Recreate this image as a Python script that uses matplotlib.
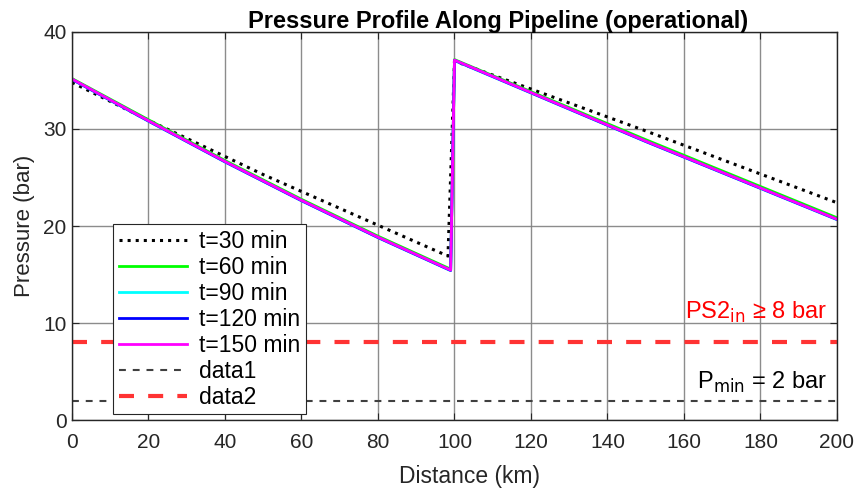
import numpy as np
import matplotlib
matplotlib.use("Agg")
import matplotlib.pyplot as plt

# Pressure samples along the line (km, bar); upstream and downstream of the booster at ~99 km
dist_30 = [0, 20, 50, 98.3, 100, 150, 200]
p_30 = [34.8, 30.9, 25.3, 16.9, 37.0, 29.8, 22.4]

dist_late = [0, 20, 40, 60, 80, 99, 100, 150, 200]
p_60 = [35.2, 30.95, 26.75, 22.75, 18.95, 15.55, 37.15, 28.9, 20.85]
p_90 = [35.1, 30.8, 26.6, 22.6, 18.8, 15.4, 37.05, 28.7, 20.65]
p_120 = [35.12, 30.82, 26.62, 22.62, 18.82, 15.42, 37.08, 28.72, 20.68]
p_150 = [35.15, 30.85, 26.65, 22.65, 18.85, 15.45, 37.1, 28.75, 20.7]

p_min = 2
ps2_in = 8

fam = ["Liberation Sans", "DejaVu Sans"]
plt.rcParams['font.family'] = fam

fig = plt.figure(figsize=(8.55, 4.92), dpi=100)
ax = fig.add_axes([0.0842, 0.1463, 0.8947, 0.7887])

ax.plot(dist_30, p_30, ':', color='black', lw=2.2, label='t=30 min')
ax.plot(dist_late, p_60, '-', color='#00ff00', lw=2.0, label='t=60 min')
ax.plot(dist_late, p_90, '-', color='#00ffff', lw=2.0, label='t=90 min')
ax.plot(dist_late, p_120, '-', color='#0000ff', lw=2.0, label='t=120 min')
ax.plot(dist_late, p_150, '-', color='#ff00ff', lw=2.0, label='t=150 min')
ax.axhline(p_min, ls=(0, (3.3, 3.3)), color='#404040', lw=1.5, label='data1')
ax.axhline(ps2_in, ls=(0, (3.6, 3.4)), color='#ff3333', lw=3.0, label='data2')

ax.text(197.5, 11.1, r'PS2$_{\rm in}$ ≥ 8 bar', color='#ff0000', ha='right', va='center',
        fontsize=17)
ax.text(197.5, 3.9, r'P$_{\rm min}$ = 2 bar', color='black', ha='right', va='center',
        fontsize=17)

ax.set_xlim(0, 200)
ax.set_ylim(0, 40)
ax.set_xticks(np.arange(0, 201, 20))
ax.set_yticks(np.arange(0, 41, 10))
ax.grid(True, color='#808080', lw=1.0, alpha=0.9)
ax.set_axisbelow(True)
for s in ax.spines.values():
    s.set_color('#262626')
    s.set_linewidth(1.0)
ax.tick_params(direction='in', length=5, width=0.8, colors='#262626', labelsize=15,
               top=True, right=True)
ax.tick_params(axis='x', pad=9)
ax.tick_params(axis='y', pad=4)

ax.set_xlabel('Distance (km)', fontsize=16.5, color='#262626', labelpad=10, x=0.52)
ax.set_ylabel('Pressure (bar)', fontsize=16, color='#262626', labelpad=6)
ax.set_title('Pressure Profile Along Pipeline (operational)', fontsize=17, fontweight='bold',
             pad=3, x=0.557)

leg = ax.legend(loc='upper left', bbox_to_anchor=(0.0536, 0.505), borderaxespad=0,
                fancybox=False, framealpha=1, edgecolor='#262626', handlelength=3.0,
                labelspacing=0.13, handletextpad=0.5, borderpad=0.25,
                prop={'size': 16.5})
leg.get_frame().set_linewidth(0.8)

fig.savefig('out.png', dpi=100)
